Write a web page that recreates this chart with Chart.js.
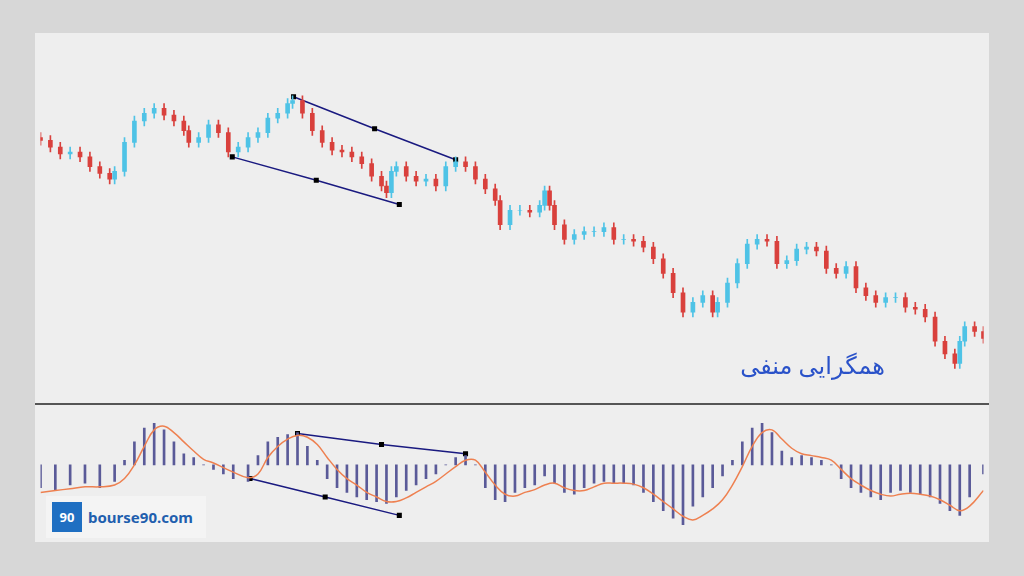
<!DOCTYPE html><html><head><meta charset="utf-8">
<script src="https://cdn.jsdelivr.net/npm/chart.js@4"></script>
<style>
body{margin:0;width:1024px;height:576px;background:#d7d7d7;position:relative;overflow:hidden;font-family:"Noto Sans",sans-serif}
#panel{position:absolute;left:35px;top:33px;width:954px;height:509px;background:#eeeeee}
#c1{position:absolute;left:35px;top:33px}
#c2{position:absolute;left:35px;top:406px}
#div{position:absolute;left:35px;top:403px;width:954px;height:2px;background:#555}
#title{position:absolute;left:700px;top:348px;width:185px;text-align:right;color:#2a52c9;font-size:24px;font-family:"Noto Sans","DejaVu Sans",sans-serif}
#logo{position:absolute;left:46px;top:496px;width:160px;height:42px;background:#f4f4f4;display:flex;align-items:center}
#logo .b{width:30px;height:30px;background:#1f6fc2;margin:0 6px 0 6px;color:#fff;font-weight:bold;font-size:13px;display:flex;align-items:center;justify-content:center}
#logo span{color:#1f5fae;font-size:15px;font-weight:bold}
</style></head><body>
<div id="panel"></div>
<canvas id="c1" width="954" height="370"></canvas>
<div id="div"></div>
<canvas id="c2" width="954" height="136"></canvas>
<div id="title">همگرایی منفی</div>
<div id="logo"><div class="b">90</div><span>bourse90.com</span></div>
<script>
const positions=[35,45,55,65,75,85,95,105,110,120,130,140,150,160,170,180,185,195,205,215,225,235,245,255,265,275,285,290,300,310,320,330,340,350,360,370,380,385,390,395,405,415,425,435,445,455,465,475,485,495,500,510,520,530,540,545,550,555,565,575,585,595,605,615,625,635,645,655,665,675,685,695,705,715,720,730,740,750,760,770,780,790,800,810,820,830,840,850,860,870,880,890,900,910,920,930,940,950,960,965,970,980,989];
const closes=[362,355,348,350,345,335,328,322,330,360,382,390,395,388,382,372,360,365,378,370,350,355,365,370,385,390,400,403,390,372,360,352,350,345,338,325,315,308,330,335,325,320,322,315,335,340,335,322,312,300,275,290,290,288,295,310,295,275,260,265,268,268,272,260,260,258,252,240,225,205,185,195,202,185,195,215,235,255,260,258,235,238,250,252,248,230,225,232,210,202,195,200,200,190,188,180,155,142,132,155,170,165,158];
const macdPos=[35,50,65,80,95,110,120,130,140,150,160,170,180,190,200,210,220,230,245,255,265,275,285,295,305,315,325,335,345,355,365,375,385,395,405,415,425,435,445,455,465,475,485,495,505,515,525,535,545,555,565,575,585,595,605,615,625,635,645,655,665,675,685,695,705,715,725,735,745,755,765,775,785,795,805,815,825,835,845,855,865,875,885,895,905,915,925,935,945,955,965,975,989];
const hist=[-25,-28,-22,-20,-25,-18,5,25,40,45,38,25,12,8,0,-5,-10,-15,-18,10,25,30,33,35,20,5,-15,-25,-30,-35,-38,-40,-42,-35,-28,-22,-15,-10,0,8,10,0,-25,-38,-40,-30,-25,-22,-12,-20,-30,-32,-25,-20,-18,-20,-20,-22,-30,-40,-50,-58,-65,-45,-35,-25,-12,5,25,40,45,35,15,8,10,8,5,0,-15,-25,-30,-35,-38,-30,-28,-30,-32,-35,-42,-50,-55,-35,-10];
const signal=[-30,-28,-26,-24,-24,-22,-15,0,20,38,42,35,25,15,6,2,-3,-8,-14,-10,8,20,28,32,30,22,8,-5,-15,-22,-30,-35,-40,-40,-36,-30,-24,-18,-10,-2,5,5,-8,-22,-32,-34,-30,-27,-22,-20,-25,-28,-28,-24,-20,-20,-20,-21,-25,-32,-40,-48,-56,-60,-55,-48,-38,-22,-2,20,35,38,28,18,12,10,8,5,-5,-15,-22,-28,-32,-34,-32,-31,-32,-34,-38,-44,-50,-45,-28];
const priceArrowTop=[[291,407],[373,374],[455,342]];
const priceArrowBot=[[229,345],[314,321],[398,296]];
const macdArrowTop=[[295,34],[380,22],[465,12]];
const macdArrowBot=[[247,-15],[323,-35],[398,-55]];

const bodies=[],wicks=[],cols=[];
closes.forEach((c,i)=>{const o=i?closes[i-1]:c+3;bodies.push({x:positions[i],y:[o,c]});wicks.push({x:positions[i],y:[Math.min(o,c)-5,Math.max(o,c)+5]});cols.push(c>=o?'#4fc3e6':'#d9413d');});
const pt=a=>a.map(p=>({x:p[0],y:p[1]}));
const arrowDs=(a)=>({type:'line',data:pt(a),borderColor:'#1a1a80',borderWidth:1.5,pointStyle:'rect',pointRadius:2.5,pointBackgroundColor:'#000',pointBorderColor:'#000'});
const common={responsive:false,animation:false,layout:{padding:0},plugins:{legend:{display:false},tooltip:{enabled:false}}};
new Chart(document.getElementById('c1'),{type:'bar',data:{datasets:[
 {data:wicks,backgroundColor:cols,barThickness:1,grouped:false},
 {data:bodies,backgroundColor:cols,barThickness:4,grouped:false},
 arrowDs(priceArrowTop),arrowDs(priceArrowBot)]},
 options:{...common,scales:{x:{type:'linear',offset:false,min:35,max:989,display:false},y:{min:97,max:467,display:false}}}});
new Chart(document.getElementById('c2'),{type:'bar',data:{datasets:[
 {type:'line',data:macdPos.map((x,i)=>({x,y:signal[i]})),borderColor:'#ee8050',borderWidth:1.5,pointRadius:0,tension:0.4},
 {data:macdPos.map((x,i)=>({x,y:hist[i]})),backgroundColor:'#5a5a98',barThickness:2},
 arrowDs(macdArrowTop),arrowDs(macdArrowBot)]},
 options:{...common,scales:{x:{type:'linear',offset:false,min:35,max:989,display:false},y:{min:-78,max:58,display:false}}}});
</script></body></html>
